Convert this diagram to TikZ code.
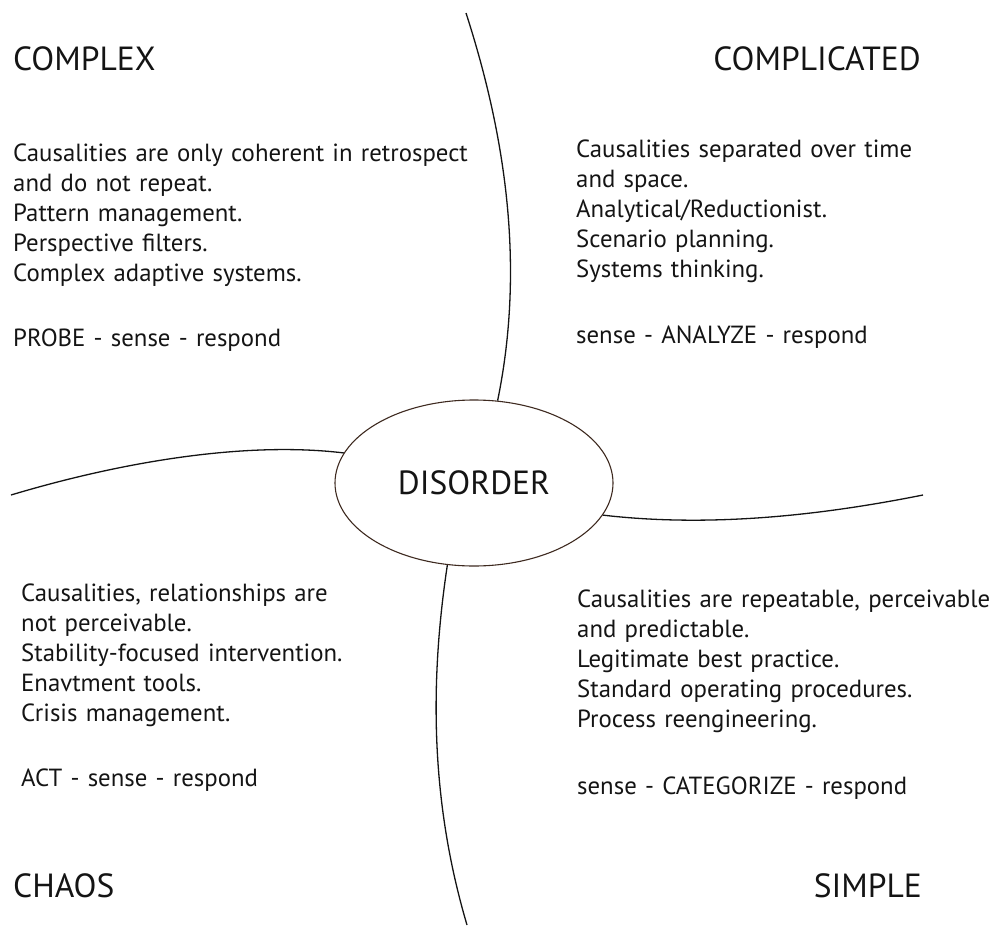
\documentclass[tikz,border=0pt]{standalone}
\usepackage{fontspec}
\setmainfont{PT Sans}
\usetikzlibrary{shapes.geometric}
\definecolor{ink}{RGB}{20,20,20}
\definecolor{rim}{RGB}{62,42,32}
\tikzset{
  heading/.style={font=\fontsize{33.5}{36}\selectfont, text=ink, inner sep=0pt},
  bodytext/.style={font=\fontsize{24.8}{30}\selectfont, text=ink, inner sep=0pt, align=left, text width=480pt},
  divider/.style={draw=ink, line width=1.3pt},
  hub/.style={ellipse, draw=rim, line width=1.1pt, inner sep=0pt,
    minimum width=278pt, minimum height=166pt, font=\fontsize{33.5}{36}\selectfont, text=ink}
}
\begin{document}
\begin{tikzpicture}[x=1pt,y=-1pt]
  \useasboundingbox (0,0) rectangle (991,926);

  % central domain
  \node[hub] (dis) at (474,483) {DISORDER};

  % free ends of the dividing curves
  \coordinate (topend) at (466,13);
  \coordinate (leftend) at (11,495);
  \coordinate (rightend) at (923,495);
  \coordinate (botend) at (467,925);

  \draw[divider] (topend) .. controls (508,143) and (524,272) .. (dis.74);
  \draw[divider] (leftend) .. controls (121,462) and (245,441) .. (dis.167);
  \draw[divider] (dis.-14) .. controls (705,527) and (813,517) .. (rightend);
  \draw[divider] (dis.-108) .. controls (430,680) and (430,800) .. (botend);

  % domain titles
  \node[heading, anchor=base west] (complex) at (13,70) {COMPLEX};
  \node[heading, anchor=base east] (complicated) at (921,70) {COMPLICATED};
  \node[heading, anchor=base west] (chaos) at (13,897) {CHAOS};
  \node[heading, anchor=base east] (simple) at (922,897) {SIMPLE};

  % domain descriptions
  \node[bodytext, anchor=base west] (complextxt) at (13,161) {%
    Causalities are only coherent in retrospect\\
    and do not repeat.\\
    Pattern management.\\
    Perspective filters.\\
    Complex adaptive systems.\\[35pt]
    PROBE - sense - respond};

  \node[bodytext, anchor=base west] (complicatedtxt) at (576,157) {%
    Causalities separated over time\\
    and space.\\
    Analytical/Reductionist.\\
    Scenario planning.\\
    Systems thinking.\\[36pt]
    sense - ANALYZE - respond};

  \node[bodytext, anchor=base west] (chaostxt) at (21,601) {%
    Causalities, relationships are\\
    not perceivable.\\
    Stability-focused intervention.\\
    Enavtment tools.\\
    Crisis management.\\[35pt]
    ACT - sense - respond};

  \node[bodytext, anchor=base west] (simpletxt) at (577,607) {%
    Causalities are repeatable, perceivable\\
    and predictable.\\
    Legitimate best practice.\\
    Standard operating procedures.\\
    Process reengineering.\\[37pt]
    sense - CATEGORIZE - respond};
\end{tikzpicture}
\end{document}
